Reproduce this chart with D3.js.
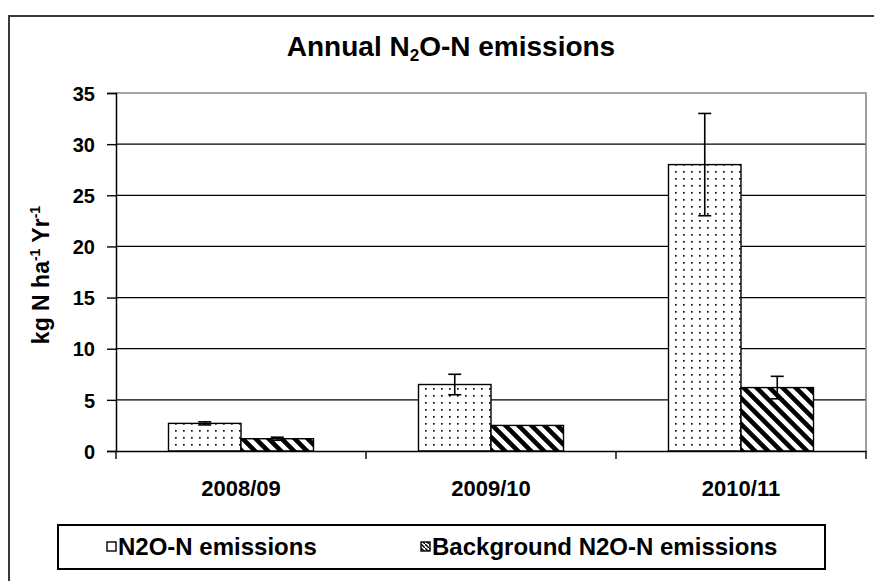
<!DOCTYPE html>
<html><head><meta charset="utf-8">
<script src="https://cdn.jsdelivr.net/npm/d3@7"></script>
<style>
html,body{margin:0;padding:0;background:#fff;}
svg text{font-family:"Liberation Sans",Arial,sans-serif;font-weight:bold;fill:#000;}
</style></head>
<body><svg id="c" width="874" height="581"></svg>
<script>
const categories = ["2008/09", "2009/10", "2010/11"];
const seriesNames = ["N2O-N emissions", "Background N2O-N emissions"];
const n2oValues = [2.7, 6.5, 28.0];
const n2oErrors = [0.15, 1.0, 5.0];
const backgroundValues = [1.2, 2.5, 6.2];
const backgroundErrors = [0.15, 0, 1.1];
const yTicks = [0, 5, 10, 15, 20, 25, 30, 35];

const svg = d3.select("#c");
const defs = svg.append("defs");

// dotted pattern
const dots = defs.append("pattern").attr("id","dots").attr("patternUnits","userSpaceOnUse")
  .attr("width",8).attr("height",7);
dots.append("rect").attr("width",8).attr("height",7).attr("fill","#fff");
dots.append("rect").attr("x",3).attr("y",3).attr("width",1.7).attr("height",1.7).attr("fill","#111");

// hatch pattern "\"
const hs0 = 13;
const hatch = defs.append("pattern").attr("id","hatch").attr("patternUnits","userSpaceOnUse")
  .attr("width",hs0).attr("height",hs0);
hatch.append("rect").attr("width",hs0).attr("height",hs0).attr("fill","#fff");
hatch.append("path").attr("d",`M-3,-3 L${hs0+3},${hs0+3} M-3,${hs0-3} L3,${hs0+3} M${hs0-3},-3 L${hs0+3},3`)
  .attr("stroke","#000").attr("stroke-width",4.6);
const hsm = defs.append("pattern").attr("id","hatchS").attr("patternUnits","userSpaceOnUse").attr("width",4).attr("height",4);
hsm.append("rect").attr("width",4).attr("height",4).attr("fill","#fff");
hsm.append("path").attr("d","M-1,-1 L5,5").attr("stroke","#000").attr("stroke-width",1.4);

// outer frame
svg.append("rect").attr("x",9).attr("y",16).attr("width",900).attr("height",600)
  .attr("fill","none").attr("stroke","#3a3a3a").attr("stroke-width",2);

const pL = 116, pR = 866, pT = 93, pB = 451;
const x0 = d3.scaleBand().domain(categories).range([pL, pR]);
const x1 = d3.scaleBand().domain(seriesNames).range([0, x0.bandwidth()]).paddingOuter(0.724);
const y = d3.scaleLinear().domain([0, 35]).range([pB, pT]);

// gridlines
svg.append("g").selectAll("line").data(yTicks.filter(t => t > 0 && t < 35)).join("line")
  .attr("x1", pL).attr("x2", pR).attr("y1", d => y(d)).attr("y2", d => y(d))
  .attr("stroke","#000").attr("stroke-width",1.3);
// plot border (top, right)
svg.append("path").attr("d",`M${pL},${y(35)} H${pR} V${pB}`)
  .attr("fill","none").attr("stroke","#888").attr("stroke-width",1.6);

// bars
const data = categories.map((c,i) => ({c, vals:[
  {s:seriesNames[0], v:n2oValues[i], e:n2oErrors[i], fill:"url(#dots)"},
  {s:seriesNames[1], v:backgroundValues[i], e:backgroundErrors[i], fill:"url(#hatch)"}]}));
const g = svg.append("g").selectAll("g").data(data).join("g")
  .attr("transform", d => `translate(${x0(d.c)},0)`);
g.selectAll("rect").data(d => d.vals).join("rect")
  .attr("x", d => x1(d.s)).attr("width", x1.bandwidth())
  .attr("y", d => y(d.v)).attr("height", d => y(0) - y(d.v))
  .attr("fill", d => d.fill).attr("stroke","#000").attr("stroke-width",1.4);
// error bars
const eb = g.selectAll("g.err").data(d => d.vals.filter(v => v.e > 0)).join("g").attr("class","err");
eb.append("line").attr("x1", d => x1(d.s) + x1.bandwidth()/2).attr("x2", d => x1(d.s) + x1.bandwidth()/2)
  .attr("y1", d => y(d.v + d.e)).attr("y2", d => y(d.v - d.e)).attr("stroke","#000").attr("stroke-width",1.6);
eb.selectAll("line.cap").data(d => [d.v + d.e, d.v - d.e].map(t => ({t, cx: x1(d.s) + x1.bandwidth()/2}))).join("line")
  .attr("class","cap").attr("x1", d => d.cx - 6.5).attr("x2", d => d.cx + 6.5)
  .attr("y1", d => y(d.t)).attr("y2", d => y(d.t)).attr("stroke","#000").attr("stroke-width",1.6);

// y axis
const yAxis = svg.append("g").attr("transform",`translate(${pL},0)`)
  .call(d3.axisLeft(y).tickValues(yTicks).tickSize(9).tickPadding(12));
yAxis.select(".domain").attr("stroke","#000").attr("stroke-width",1.5);
yAxis.selectAll(".tick line").attr("stroke","#000").attr("stroke-width",1.4);
yAxis.selectAll(".tick text").style("font-size","20px").attr("dy","0.36em");

// x axis
const xAxis = svg.append("g").attr("transform",`translate(0,${pB})`)
  .call(d3.axisBottom(x0).tickSize(0).tickPadding(29));
xAxis.select(".domain").attr("stroke","#000").attr("stroke-width",1.5);
xAxis.selectAll(".tick text").style("font-size","22px");
svg.append("g").selectAll("line").data(d3.range(categories.length + 1)).join("line")
  .attr("x1", i => pL + i * x0.step()).attr("x2", i => pL + i * x0.step())
  .attr("y1", pB).attr("y2", pB + 8).attr("stroke","#000").attr("stroke-width",1.4);

// title
const title = svg.append("text").attr("x",451).attr("y",56).attr("text-anchor","middle").style("font-size","28px");
title.append("tspan").text("Annual N");
title.append("tspan").text("2").style("font-size","17px").attr("dy","5");
title.append("tspan").text("O-N emissions").attr("dy","-5");

// y label
const yl = svg.append("text").attr("transform","translate(49,275) rotate(-90)").attr("text-anchor","middle").style("font-size","23px");
yl.append("tspan").text("kg N ha");
yl.append("tspan").text("-1").style("font-size","14px").attr("dy","-9");
yl.append("tspan").text(" Yr").attr("dy","9");
yl.append("tspan").text("-1").style("font-size","14px").attr("dy","-9");

// legend
svg.append("rect").attr("x",58).attr("y",525).attr("width",767).attr("height",44)
  .attr("fill","#fff").attr("stroke","#000").attr("stroke-width",2);
const legendX = [107, 421];
const legendFills = ["#fff", "url(#hatchS)"];
const lg = svg.append("g").selectAll("g").data(seriesNames).join("g")
  .attr("transform",(d,i) => `translate(${legendX[i]},0)`);
lg.append("rect").attr("x",0).attr("y",542).attr("width",9).attr("height",9)
  .attr("fill",(d,i) => legendFills[i]).attr("stroke","#000").attr("stroke-width",1.4);
lg.append("text").attr("x",11).attr("y",555).style("font-size","24px").text(d => d);
</script></body></html>
